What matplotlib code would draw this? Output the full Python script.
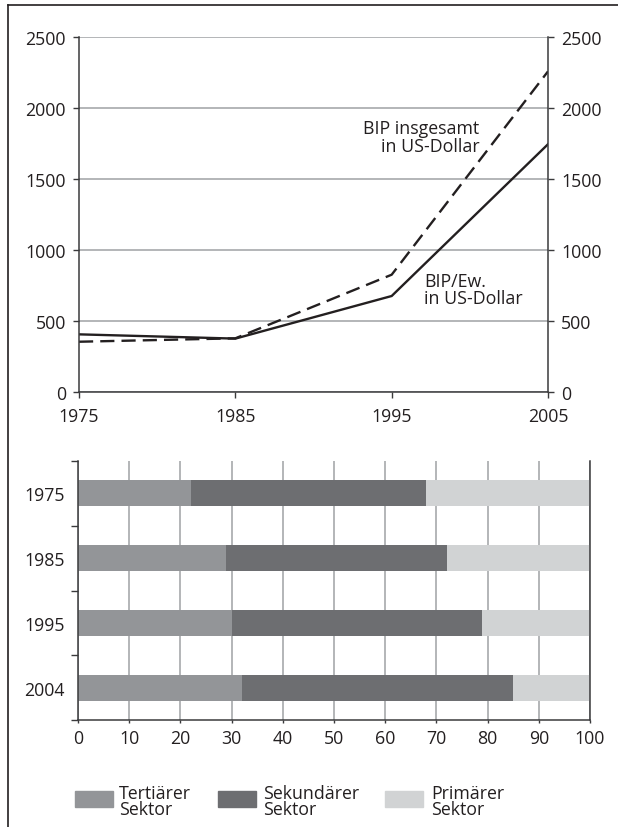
import matplotlib
matplotlib.use("Agg")
import matplotlib.pyplot as plt
from matplotlib.patches import Rectangle
from matplotlib.lines import Line2D

# ---- data ----
years_line = [1975, 1985, 1995, 2005]
bip_ew = [406, 376, 676, 1745]          # BIP/Ew. in US-Dollar (solid)
bip_total = [354, 378, 826, 2258]       # BIP insgesamt in US-Dollar (dashed)
y_ticks_top = [0, 500, 1000, 1500, 2000, 2500]

bar_years = ["1975", "1985", "1995", "2004"]
tertiaer = [22, 29, 30, 32]
sekundaer = [46, 43, 49, 53]
primaer = [32, 28, 21, 15]
x_ticks_bottom = list(range(0, 101, 10))
sector_labels = ["Tertiärer\nSektor", "Sekundärer\nSektor", "Primärer\nSektor"]

# ---- style ----
FONT = "Open Sans"
FS = 12.8
TXT = "#231f20"
SPINE = "#3a3a3c"
GRID = "#a7a9ac"
C_TERT = "#939598"
C_SEK = "#6d6e71"
C_PRIM = "#d1d3d4"

plt.rcParams["font.family"] = [FONT, "DejaVu Sans"]
plt.rcParams["font.size"] = FS
plt.rcParams["text.color"] = TXT
plt.rcParams["xtick.color"] = SPINE
plt.rcParams["ytick.color"] = SPINE
plt.rcParams["xtick.labelcolor"] = TXT
plt.rcParams["ytick.labelcolor"] = TXT

W, H = 618, 828
fig = plt.figure(figsize=(W / 100, H / 100), dpi=100)

def px_axes(l, r, t, b):
    return fig.add_axes([l / W, (H - b) / H, (r - l) / W, (b - t) / H])

# outer frame (top and left)
fig.add_artist(Line2D([8 / W, 1], [1 - 6 / H, 1 - 6 / H], color=TXT, lw=1.2))
fig.add_artist(Line2D([8 / W, 8 / W], [0, 1 - 6 / H], color=TXT, lw=1.2))

# ---- top chart ----
ax = px_axes(79, 548, 38, 393)
ax.plot(years_line, bip_ew, color=TXT, lw=1.7, solid_joinstyle="miter")
ax.plot(years_line, bip_total, color=TXT, lw=1.7, linestyle=(0, (6, 3)))
ax.set_xlim(1975, 2005)
ax.set_ylim(0, 2500)
ax.set_xticks(years_line)
ax.set_yticks(y_ticks_top)
ax.yaxis.grid(True, color=GRID, lw=1.2)
ax.set_axisbelow(True)
for s in ["left", "right", "bottom"]:
    ax.spines[s].set_color(SPINE)
    ax.spines[s].set_linewidth(1.1)
ax.spines["top"].set_visible(False)
ax.tick_params(axis="x", direction="out", length=4.5, width=1, pad=6, labelsize=FS)
ax.tick_params(axis="y", direction="out", length=4.5, width=1, pad=5, labelsize=FS,
               left=True, right=True, labelleft=True, labelright=True)
ax.text(2000.6, 1860, "BIP insgesamt", ha="right", va="center", fontsize=FS)
ax.text(2000.6, 1732, "in US-Dollar", ha="right", va="center", fontsize=FS)
ax.text(1997.1, 782, "BIP/Ew.", ha="left", va="center", fontsize=FS)
ax.text(1997.1, 660, "in US-Dollar", ha="left", va="center", fontsize=FS)

# ---- bottom chart ----
bx = px_axes(78, 590, 462, 721)
ypos = list(range(len(bar_years)))
left2 = [a + b for a, b in zip(tertiaer, sekundaer)]
bx.barh(ypos, tertiaer, height=0.4, color=C_TERT, zorder=2)
bx.barh(ypos, sekundaer, left=tertiaer, height=0.4, color=C_SEK, zorder=2)
bx.barh(ypos, primaer, left=left2, height=0.4, color=C_PRIM, zorder=2)
bx.set_xlim(0, 100)
bx.set_ylim(len(bar_years) - 0.5, -0.5)
bx.set_xticks(x_ticks_bottom)
bx.set_yticks(ypos)
bx.set_yticklabels(bar_years)
bx.set_yticks([i - 0.5 for i in range(len(bar_years) + 1)], minor=True)
bx.xaxis.grid(True, color=GRID, lw=1.2, zorder=1)
bx.set_axisbelow(True)
for s in ["left", "right", "bottom"]:
    bx.spines[s].set_color(SPINE)
    bx.spines[s].set_linewidth(1.1)
bx.spines["top"].set_visible(False)
bx.tick_params(axis="y", which="major", length=0, pad=9.5, labelsize=FS)
bx.tick_params(axis="y", which="minor", length=5, width=1, direction="out")
bx.tick_params(axis="x", which="major", length=2.5, width=1, direction="out", pad=4, labelsize=FS)

# ---- legend ----
colors = [C_TERT, C_SEK, C_PRIM]
patch_x = [75, 218, 385]
text_x = [119, 263, 431]
for c, lab, pxx, tx in zip(colors, sector_labels, patch_x, text_x):
    fig.add_artist(Rectangle((pxx / W, (H - 808) / H), 38 / W, 16 / H,
                             transform=fig.transFigure, color=c))
    fig.text(tx / W, (H - 802) / H, lab, ha="left", va="center", fontsize=FS,
             linespacing=0.92)

fig.savefig("out.png", dpi=100)
